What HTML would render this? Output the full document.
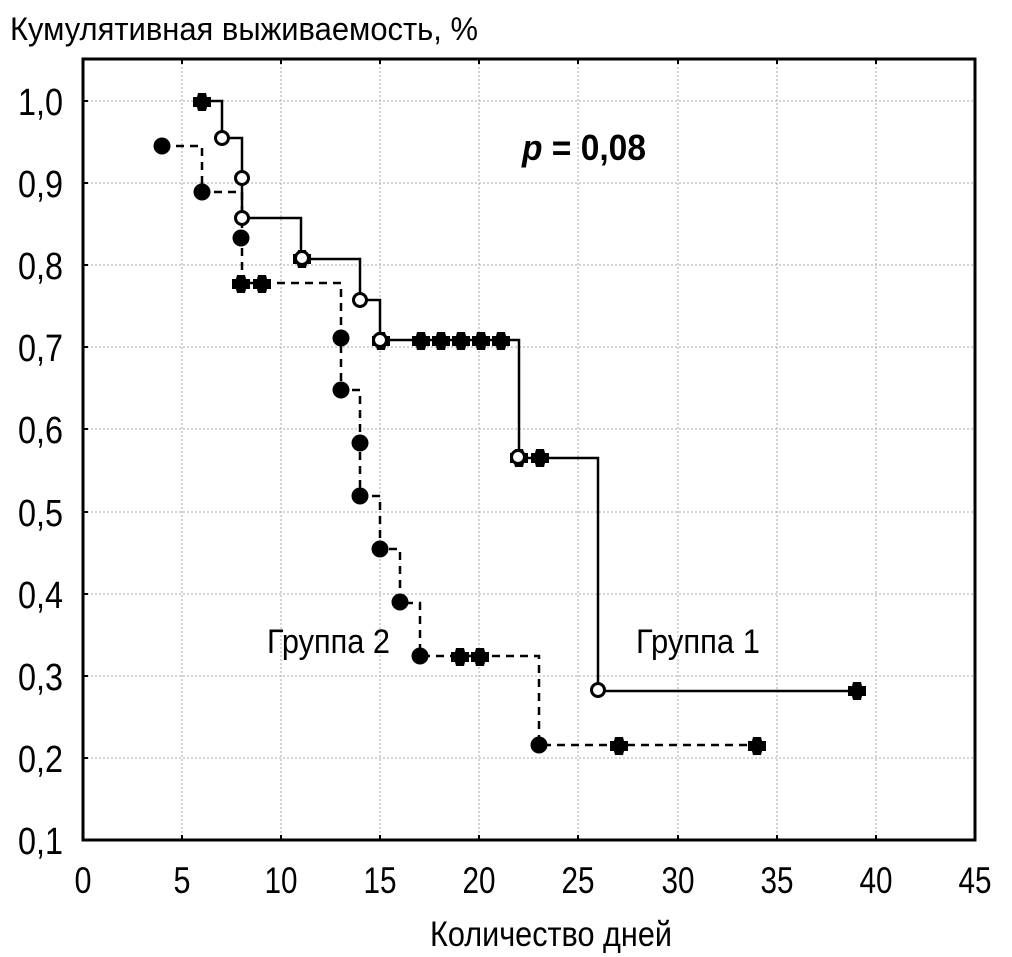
<!DOCTYPE html>
<html><head><meta charset="utf-8"><style>body{margin:0;background:#fff}svg{display:block}</style></head>
<body>
<svg width="1012" height="957" xmlns="http://www.w3.org/2000/svg" font-family="Liberation Sans, sans-serif">
<defs>
<path id="cr" d="M-4,-9H4L5,-5H9V5L5,5L4,9H-4L-5,5H-9V-5H-5Z" fill="#000"/>
<circle id="fc" r="8.5" fill="#000"/>
<circle id="oc" r="6.5" fill="#fff" stroke="#000" stroke-width="3"/>
</defs>
<g stroke="#aaa" stroke-width="1" stroke-dasharray="2,2">
<line x1="182" y1="59" x2="182" y2="840"/><line x1="281" y1="59" x2="281" y2="840"/><line x1="380" y1="59" x2="380" y2="840"/><line x1="479" y1="59" x2="479" y2="840"/><line x1="578" y1="59" x2="578" y2="840"/><line x1="678" y1="59" x2="678" y2="840"/><line x1="777" y1="59" x2="777" y2="840"/><line x1="876" y1="59" x2="876" y2="840"/>
<line x1="83" y1="101" x2="975" y2="101"/><line x1="83" y1="183" x2="975" y2="183"/><line x1="83" y1="265" x2="975" y2="265"/><line x1="83" y1="347" x2="975" y2="347"/><line x1="83" y1="429" x2="975" y2="429"/><line x1="83" y1="512" x2="975" y2="512"/><line x1="83" y1="594" x2="975" y2="594"/><line x1="83" y1="676" x2="975" y2="676"/><line x1="83" y1="758" x2="975" y2="758"/>
</g>
<rect x="83" y="59" width="892" height="781" fill="none" stroke="#000" stroke-width="3"/>
<g stroke="#000" stroke-width="2">
<line x1="182" y1="59" x2="182" y2="64"/><line x1="281" y1="59" x2="281" y2="64"/><line x1="380" y1="59" x2="380" y2="64"/><line x1="479" y1="59" x2="479" y2="64"/><line x1="578" y1="59" x2="578" y2="64"/><line x1="678" y1="59" x2="678" y2="64"/><line x1="777" y1="59" x2="777" y2="64"/><line x1="876" y1="59" x2="876" y2="64"/>
<line x1="182" y1="835" x2="182" y2="840"/><line x1="281" y1="835" x2="281" y2="840"/><line x1="380" y1="835" x2="380" y2="840"/><line x1="479" y1="835" x2="479" y2="840"/><line x1="578" y1="835" x2="578" y2="840"/><line x1="678" y1="835" x2="678" y2="840"/><line x1="777" y1="835" x2="777" y2="840"/><line x1="876" y1="835" x2="876" y2="840"/>
<line x1="83" y1="101" x2="88" y2="101"/><line x1="83" y1="183" x2="88" y2="183"/><line x1="83" y1="265" x2="88" y2="265"/><line x1="83" y1="347" x2="88" y2="347"/><line x1="83" y1="429" x2="88" y2="429"/><line x1="83" y1="512" x2="88" y2="512"/><line x1="83" y1="594" x2="88" y2="594"/><line x1="83" y1="676" x2="88" y2="676"/><line x1="83" y1="758" x2="88" y2="758"/>
</g>
<path d="M162,146H202V192H242V283H341V390H360V496H380V549H400V603H420V656H539V745H757" fill="none" stroke="#000" stroke-width="2.5" stroke-dasharray="8,6"/>
<path d="M202,101H222V138H242V218H301V259H360V300H380V340H519V458H598V691H856" fill="none" stroke="#000" stroke-width="2.5"/>
<g>
<use href="#fc" x="162" y="146"/><use href="#fc" x="202" y="192"/><use href="#fc" x="241" y="238"/><use href="#cr" x="241" y="284"/><use href="#cr" x="262" y="284"/>
<use href="#fc" x="341" y="338"/><use href="#fc" x="341" y="390"/><use href="#fc" x="360" y="443"/><use href="#fc" x="360" y="496"/><use href="#fc" x="380" y="549"/><use href="#fc" x="400" y="602"/><use href="#fc" x="420" y="656"/><use href="#cr" x="460" y="657"/><use href="#cr" x="480" y="657"/><use href="#fc" x="539" y="745"/><use href="#cr" x="619" y="746"/><use href="#cr" x="757" y="746"/>
<use href="#cr" x="202" y="102"/><use href="#oc" x="222" y="138"/><use href="#oc" x="242" y="178"/><use href="#oc" x="242" y="218"/>
<use href="#cr" x="302" y="259"/><use href="#oc" x="302" y="258"/><use href="#oc" x="360" y="300"/><use href="#cr" x="381" y="341"/><use href="#oc" x="380" y="340"/>
<use href="#cr" x="421" y="341"/><use href="#cr" x="441" y="341"/><use href="#cr" x="461" y="341"/><use href="#cr" x="481" y="341"/><use href="#cr" x="501" y="341"/>
<use href="#cr" x="519" y="458"/><use href="#oc" x="518" y="457"/><use href="#cr" x="540" y="458"/><use href="#oc" x="598" y="690"/><use href="#cr" x="857" y="691"/>
</g>
<g font-size="38" text-anchor="end">
<text x="63" y="115" textLength="45" lengthAdjust="spacingAndGlyphs">1,0</text>
<text x="63" y="197" textLength="45" lengthAdjust="spacingAndGlyphs">0,9</text>
<text x="63" y="279" textLength="45" lengthAdjust="spacingAndGlyphs">0,8</text>
<text x="63" y="361" textLength="45" lengthAdjust="spacingAndGlyphs">0,7</text>
<text x="63" y="443" textLength="45" lengthAdjust="spacingAndGlyphs">0,6</text>
<text x="63" y="526" textLength="45" lengthAdjust="spacingAndGlyphs">0,5</text>
<text x="63" y="608" textLength="45" lengthAdjust="spacingAndGlyphs">0,4</text>
<text x="63" y="690" textLength="45" lengthAdjust="spacingAndGlyphs">0,3</text>
<text x="63" y="772" textLength="45" lengthAdjust="spacingAndGlyphs">0,2</text>
<text x="63" y="854" textLength="45" lengthAdjust="spacingAndGlyphs">0,1</text>
</g>
<g font-size="37" text-anchor="middle">
<text x="83" y="893" textLength="17" lengthAdjust="spacingAndGlyphs">0</text><text x="182" y="893" textLength="17" lengthAdjust="spacingAndGlyphs">5</text>
<text x="281" y="893" textLength="33" lengthAdjust="spacingAndGlyphs">10</text><text x="380" y="893" textLength="33" lengthAdjust="spacingAndGlyphs">15</text><text x="479" y="893" textLength="33" lengthAdjust="spacingAndGlyphs">20</text><text x="578" y="893" textLength="33" lengthAdjust="spacingAndGlyphs">25</text><text x="678" y="893" textLength="33" lengthAdjust="spacingAndGlyphs">30</text><text x="777" y="893" textLength="33" lengthAdjust="spacingAndGlyphs">35</text><text x="876" y="893" textLength="33" lengthAdjust="spacingAndGlyphs">40</text><text x="975" y="893" textLength="33" lengthAdjust="spacingAndGlyphs">45</text>
</g>
<text x="10" y="40" font-size="32" textLength="468" lengthAdjust="spacingAndGlyphs">Кумулятивная выживаемость, %</text>
<text x="430" y="946" font-size="35" textLength="242" lengthAdjust="spacingAndGlyphs">Количество дней</text>
<text x="267" y="653" font-size="34" textLength="123" lengthAdjust="spacingAndGlyphs">Группа 2</text>
<text x="636" y="653" font-size="34" textLength="124" lengthAdjust="spacingAndGlyphs">Группа 1</text>
<text x="522" y="160" font-size="36" font-weight="bold" textLength="124" lengthAdjust="spacingAndGlyphs"><tspan font-style="italic">p</tspan> = 0,08</text>
</svg>
</body></html>
